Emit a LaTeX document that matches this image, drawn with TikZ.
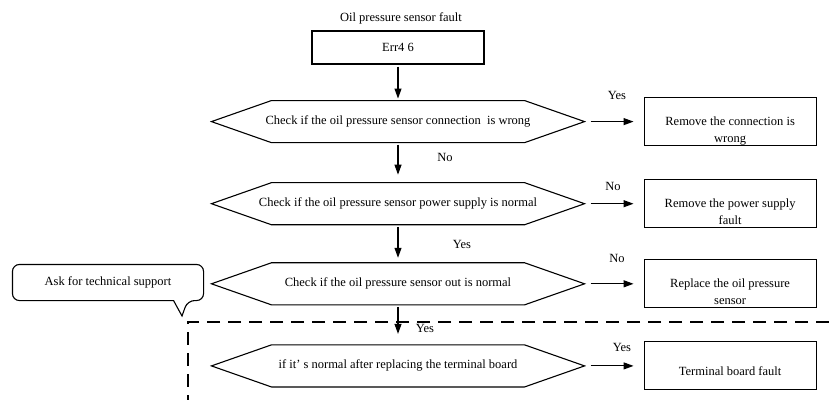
\documentclass[tikz,border=0pt]{standalone}
\usepackage{fontspec}
\setmainfont{Liberation Serif}
\usetikzlibrary{arrows.meta,positioning}

\begin{document}
\begin{tikzpicture}[x=1pt,y=-1pt,font=\fontsize{12.5}{20}\selectfont,line width=1.1pt,
  box/.style={draw,minimum width=172pt,minimum height=48pt,align=center,inner sep=1pt,
    font=\fontsize{12.5}{16.5}\selectfont,text height=41pt,text depth=0pt},
  dec/.style={minimum width=372pt,minimum height=41pt,inner sep=0pt},
  flow/.style={-{Triangle[length=10pt,width=7pt]},shorten <=2pt},
  fence/.style={dash pattern=on 13pt off 8pt,line width=1.3pt}]
\useasboundingbox (0,0) rectangle (829,400);
\node (ttl) at (401,18) {Oil pressure sensor fault};
\node[draw,minimum width=172pt,minimum height=33pt] (err) at (398,47.5) {Err4 6};
\node[dec,below=36pt of err] (d1) {Check if the oil pressure sensor connection~ is wrong};
\node[dec,below=40pt of d1] (d2) {Check if the oil pressure sensor power supply is normal};
\node[dec,below=38pt of d2] (d3) {Check if the oil pressure sensor out is normal};
\node[dec,below=40pt of d3] (d4) {if it’ s normal after replacing the terminal board};
% hexagon outlines
\foreach \d in {d1,d2,d3,d4}
  \draw ([xshift=60pt]\d.north west) -- ([xshift=-60pt]\d.north east) -- (\d.east)
    -- ([xshift=-60pt]\d.south east) -- ([xshift=60pt]\d.south west) -- (\d.west) -- cycle;
\node[box,right=59pt of d1] (b1) {Remove the connection is\\wrong};
\node[box,right=59pt of d2] (b2) {Remove the power supply\\fault};
\node[box,right=59pt of d3] (b3) {Replace the oil pressure\\sensor};
\node[box,right=59pt of d4,text height=20pt] (b4) {Terminal board fault};
\draw[flow,shorten >=2pt] (err) -- (d1);
\draw[flow,shorten >=8pt] (d1) -- (d2);
\draw[flow,shorten >=5pt] (d2) -- (d3);
\draw[flow,shorten >=11pt] (d3) -- (d4);
\foreach \d/\b in {d1/b1,d2/b2,d3/b3,d4/b4}
  \draw[flow,shorten <=6pt,shorten >=10pt] (\d.east) -- (\b.west);
\node (no1) at (445,157) {No};
\node (yes2) at (462,244) {Yes};
\node (yes3) at (425,328) {Yes};
\node (yes1) at (617,95) {Yes};
\node (no2) at (613,186) {No};
\node (no3) at (617,258) {No};
\node (yes4) at (622,347) {Yes};
% callout
\node[minimum width=190pt,minimum height=35pt] (ask) at (108,282.5) {Ask for technical support};
\coordinate (tip) at (182,316);
\draw[rounded corners=7pt] (ask.west) |- (ask.north east) -- (ask.south east)
  -- ([xshift=-16pt]ask.south east) [sharp corners] -- (tip)
  -- ([xshift=-30pt]ask.south east) [rounded corners=7pt] -| (ask.west);
% dashed region
\coordinate (dk) at (188,322);
\coordinate (de) at (829,322);
\coordinate (dd) at (188,400);
\draw[fence] (de) -- (dk) -- (dd);
\end{tikzpicture}
\end{document}
